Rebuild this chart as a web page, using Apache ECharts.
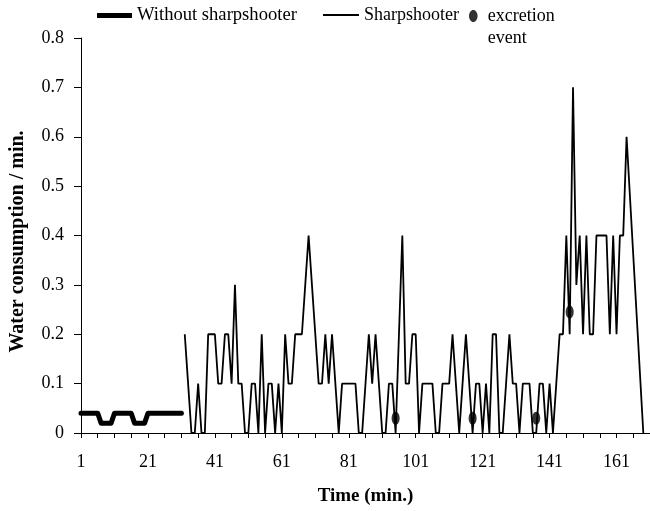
<!DOCTYPE html>
<html><head><meta charset="utf-8">
<script src="https://cdn.jsdelivr.net/npm/echarts@6/dist/echarts.min.js"></script>
<style>html,body{margin:0;padding:0;background:#fff}#c{width:650px;height:511px}</style>
</head><body><div id="c"></div>
<script>
// Minutes shown on the category axis
const firstMinute = 1;
const lastMinute = 171;

// Water consumption without sharpshooter, minutes 1..31
const withoutSharpshooter = [
  0.04, 0.04, 0.04, 0.04, 0.04, 0.04, 0.02, 0.02, 0.02, 0.02,
  0.04, 0.04, 0.04, 0.04, 0.04, 0.04, 0.02, 0.02, 0.02, 0.02,
  0.04, 0.04, 0.04, 0.04, 0.04, 0.04, 0.04, 0.04, 0.04, 0.04, 0.04
];
const withoutStartMinute = 1;

// Water consumption with sharpshooter, minutes 32..169
const sharpshooter = [
  0.2, 0.1, 0, 0, 0.1, 0, 0, 0.2, 0.2, 0.2,
  0.1, 0.1, 0.2, 0.2, 0.1, 0.3, 0.1, 0.1, 0, 0,
  0.1, 0.1, 0, 0.2, 0, 0.1, 0.1, 0, 0.1, 0,
  0.2, 0.1, 0.1, 0.2, 0.2, 0.2, 0.3, 0.4, 0.3, 0.2,
  0.1, 0.1, 0.2, 0.1, 0.2, 0.1, 0, 0.1, 0.1, 0.1,
  0.1, 0.1, 0, 0, 0.1, 0.2, 0.1, 0.2, 0.1, 0,
  0, 0.1, 0.1, 0, 0.2, 0.4, 0.1, 0.1, 0.2, 0.2,
  0, 0.1, 0.1, 0.1, 0.1, 0, 0, 0.1, 0.1, 0.1,
  0.2, 0.1, 0, 0.1, 0.2, 0.1, 0, 0.1, 0.1, 0,
  0.1, 0, 0.2, 0.2, 0, 0, 0.1, 0.2, 0.1, 0.1,
  0, 0.1, 0.1, 0.1, 0, 0, 0.1, 0.1, 0, 0.1,
  0, 0.1, 0.2, 0.2, 0.4, 0.2, 0.7, 0.3, 0.4, 0.2,
  0.4, 0.2, 0.2, 0.4, 0.4, 0.4, 0.4, 0.2, 0.4, 0.2,
  0.4, 0.4, 0.6, 0.48, 0.36, 0.24, 0.12, 0
];
const sharpStartMinute = 32;

// Excretion events
const excretionMinutes = [95, 118, 137, 147];
const excretionValues = [0.03, 0.03, 0.03, 0.245];

// Y axis
const yMin = 0, yMax = 0.8, yStep = 0.1;

const minutes = [];
for (let m = firstMinute; m <= lastMinute; m++) minutes.push(String(m));

const withoutData = minutes.map((_, i) => {
  const k = i - (withoutStartMinute - firstMinute);
  return (k >= 0 && k < withoutSharpshooter.length) ? withoutSharpshooter[k] : null;
});
const sharpData = minutes.map((_, i) => {
  const k = i - (sharpStartMinute - firstMinute);
  return (k >= 0 && k < sharpshooter.length) ? sharpshooter[k] : null;
});
const excretionData = excretionMinutes.map((m, i) => [m - firstMinute, excretionValues[i]]);

const FONT = "'Liberation Serif', 'Times New Roman', serif";
const ellipse = 'path://M5,0 C7.8,0 10,3.1 10,7 C10,10.9 7.8,14 5,14 C2.2,14 0,10.9 0,7 C0,3.1 2.2,0 5,0 Z';
const legendText = { fontFamily: FONT, fontSize: 18, color: '#000' };

const chart = echarts.init(document.getElementById('c'), null, { renderer: 'canvas' });
chart.setOption({
  animation: false,
  backgroundColor: '#fff',
  grid: { left: 80, top: 38, width: 575.1, height: 396, containLabel: false },
  legend: [
    { data: ['Without sharpshooter'], left: 97, top: 6, padding: 0, selectedMode: false,
      itemWidth: 35, itemHeight: 5, icon: 'rect', textStyle: Object.assign({}, legendText, { fontSize: 18.6 }) },
    { data: ['Sharpshooter'], left: 323, top: 6, padding: 0, selectedMode: false,
      itemWidth: 36, itemHeight: 2, icon: 'rect', textStyle: legendText },
    { data: ['excretion event'], left: 469, top: -17, padding: 0, selectedMode: false,
      itemWidth: 19, itemHeight: 12, icon: ellipse,
      formatter: () => '\nexcretion\nevent',
      textStyle: Object.assign({}, legendText, { lineHeight: 22 }) }
  ],
  xAxis: {
    type: 'category',
    data: minutes,
    boundaryGap: false,
    name: 'Time (min.)',
    nameLocation: 'middle',
    nameGap: 54,
    nameTextStyle: { fontFamily: FONT, fontSize: 19, fontWeight: 'bold', color: '#000' },
    axisLine: { show: true, lineStyle: { color: '#000', width: 1 } },
    axisTick: { show: true, interval: 4, length: 5, lineStyle: { color: '#000' } },
    axisLabel: { interval: 19, margin: 20, fontFamily: FONT, fontSize: 18, color: '#000' },
    splitLine: { show: false }
  },
  yAxis: {
    type: 'value',
    min: yMin, max: yMax, interval: yStep,
    name: 'Water consumption / min.',
    nameLocation: 'middle',
    nameGap: 53,
    nameTextStyle: { fontFamily: FONT, fontSize: 20, fontWeight: 'bold', color: '#000',
      padding: [0, 12, 0, 0] },
    axisLine: { show: true, lineStyle: { color: '#000', width: 1 } },
    axisTick: { show: true, length: 7, lineStyle: { color: '#000' } },
    axisLabel: { margin: 17, fontFamily: FONT, fontSize: 18, color: '#000',
      formatter: v => (Math.abs(v) < 1e-9 ? '0' : v.toFixed(1)) },
    splitLine: { show: false }
  },
  series: [
    { name: 'Without sharpshooter', type: 'line', data: withoutData, color: '#000',
      symbol: 'none', lineStyle: { color: '#000', width: 5, join: 'round', cap: 'round' } },
    { name: 'Sharpshooter', type: 'line', data: sharpData, color: '#000',
      symbol: 'none', lineStyle: { color: '#000', width: 1.8 } },
    { name: 'excretion event', type: 'scatter', data: excretionData, color: '#000',
      symbol: ellipse, symbolSize: [8, 13], symbolKeepAspect: false,
      itemStyle: { color: '#000' }, z: 5 }
  ]
});
</script></body></html>
